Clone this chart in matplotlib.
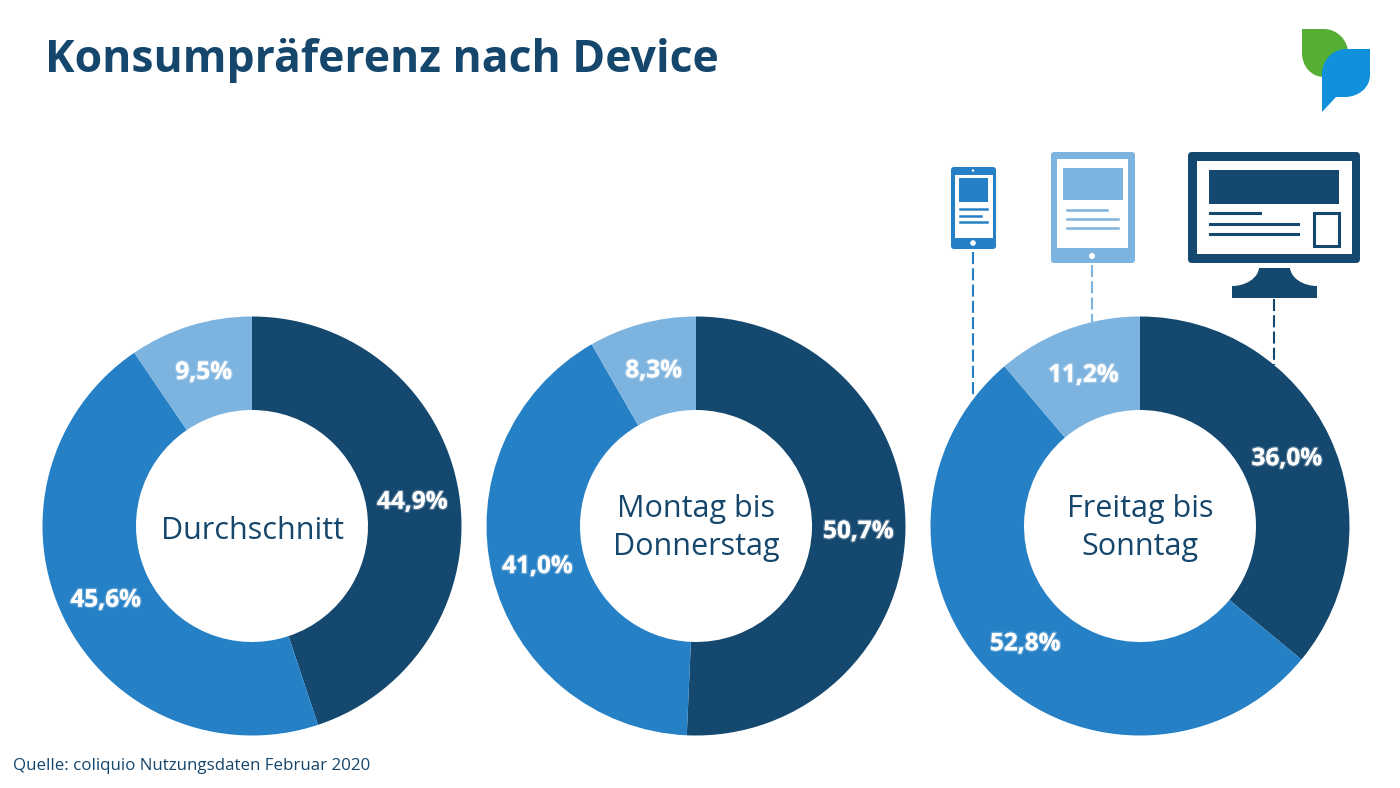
import numpy as np
from matplotlib import pyplot as plt
from matplotlib.patches import Rectangle, Circle, FancyBboxPatch, Wedge, PathPatch
from matplotlib.path import Path
import matplotlib.patheffects as pe

dark = '#15486f'
mid = '#2580c5'
light = '#7db3df'
title_col = '#15466c'

titles = ['Durchschnitt', 'Montag bis\nDonnerstag', 'Freitag bis\nSonntag']
desktop = [44.9, 50.7, 36.0]
mobile = [45.6, 41.0, 52.8]
tablet = [9.5, 8.3, 11.2]
labels = [['44,9%', '45,6%', '9,5%'], ['50,7%', '41,0%', '8,3%'], ['36,0%', '52,8%', '11,2%']]
centers = [252, 696, 1140]
cy = 526
r_out = 209.5
r_in = 116

W, H = 1400, 788
fig = plt.figure(figsize=(14, 7.88), dpi=100)
ax = fig.add_axes([0, 0, 1, 1])
ax.set_xlim(0, W)
ax.set_ylim(H, 0)
ax.axis('off')
plt.rcParams['font.family'] = ['Open Sans', 'DejaVu Sans']

outline = [pe.withStroke(linewidth=2, foreground='#ffffff40')]
dash = (0, (5.8, 2))

for i, cx in enumerate(centers):
    vals = [desktop[i], mobile[i], tablet[i]]
    cols = [dark, mid, light]
    # y axis is inverted, so angles run clockwise from the top
    start = -90.0
    for v, c, lab in zip(vals, cols, labels[i]):
        sweep = v / sum(vals) * 360
        ax.add_patch(Wedge((cx, cy), r_out, start, start + sweep, width=r_out - r_in, fc=c, ec='none'))
        a = np.radians(start + sweep / 2)
        rt = (r_out + r_in) / 2
        ax.text(cx - 0.5 + rt * np.cos(a), cy + 2.5 + rt * np.sin(a), lab, color='white', fontsize=17.5,
                fontweight='bold', ha='center', va='center', path_effects=outline)
        start += sweep
    # single line title sits a little lower than the two line ones
    ax.text(cx, cy + (5 if '\n' not in titles[i] else 2), titles[i], color=title_col, fontsize=22,
            ha='center', va='center', linespacing=1.38)

ax.text(45, 60, 'Konsumpräferenz nach Device', color=title_col, fontsize=32, fontweight='bold', ha='left', va='center')
ax.text(13, 766, 'Quelle: coliquio Nutzungsdaten Februar 2020', color=title_col, fontsize=12.15, ha='left', va='center')

# logo
C4 = Path.CURVE4
green = Path([(1302, 29), (1324, 29), (1337, 29), (1348, 40), (1348, 53), (1348, 66), (1337, 77), (1324, 77),
              (1311, 77), (1302, 66), (1302, 53), (1302, 29)],
             [Path.MOVETO, Path.LINETO, C4, C4, C4, C4, C4, C4, C4, C4, C4, Path.CLOSEPOLY])
ax.add_patch(PathPatch(green, fc='#56ae35', ec='none', zorder=2))
blue = Path([(1370, 49), (1370, 75), (1370, 88), (1358, 97), (1345, 97), (1336, 97), (1322, 112), (1322, 74),
             (1322, 60), (1333, 49), (1346, 49), (1370, 49)],
            [Path.MOVETO, Path.LINETO, C4, C4, C4, Path.LINETO, Path.LINETO, Path.LINETO, C4, C4, C4, Path.CLOSEPOLY])
ax.add_patch(PathPatch(blue, fc='#1190dc', ec='none', zorder=3))

# phone icon
ax.add_patch(FancyBboxPatch((951, 167), 45, 82, boxstyle='round,pad=0,rounding_size=3', fc=mid, ec='none'))
ax.add_patch(Rectangle((955, 175), 38, 63, fc='white', ec='none'))
ax.add_patch(Rectangle((959, 178), 29, 24, fc=mid, ec='none'))
for y, x2 in zip([209, 216, 222], [987, 981, 987]):
    ax.plot([960, x2], [y, y], color=mid, lw=1.8)
ax.add_patch(Circle((973, 243), 2.8, fc='white', ec='none'))
ax.add_patch(Circle((973, 170.5), 1.2, fc='white', ec='none'))
ax.plot([973, 973], [252, 397], color=mid, lw=1.5, ls=dash)

# tablet icon
ax.add_patch(FancyBboxPatch((1051, 152), 84, 111, boxstyle='round,pad=0,rounding_size=3', fc=light, ec='none'))
ax.add_patch(Rectangle((1057, 159), 71, 89, fc='white', ec='none'))
ax.add_patch(Rectangle((1063, 168), 60, 32, fc=light, ec='none'))
for y, x2 in zip([210, 219, 228], [1107, 1118, 1118]):
    ax.plot([1067, x2], [y, y], color=light, lw=1.8)
ax.add_patch(Circle((1092, 256), 3, fc='white', ec='none'))
ax.plot([1092, 1092], [265, 322], color=light, lw=1.5, ls=dash)

# desktop icon
ax.add_patch(FancyBboxPatch((1188, 152), 172, 111, boxstyle='round,pad=0,rounding_size=4', fc=dark, ec='none'))
ax.add_patch(Rectangle((1197, 161), 155, 93, fc='white', ec='none'))
ax.add_patch(Rectangle((1209, 170), 130, 34, fc=dark, ec='none'))
ax.add_patch(Rectangle((1314, 213), 25, 33, fc='white', ec=dark, lw=2.2))
for y, x2 in zip([213, 224, 234], [1260, 1298, 1298]):
    ax.plot([1210, x2], [y, y], color=dark, lw=2.2)
stand = Path([(1259, 268), (1290, 268), (1291, 278), (1303, 286), (1317, 286), (1317, 298), (1232, 298), (1232, 286),
              (1246, 286), (1258, 278), (1259, 268), (1259, 268)],
             [Path.MOVETO, Path.LINETO, C4, C4, C4, Path.LINETO, Path.LINETO, Path.LINETO, C4, C4, C4, Path.CLOSEPOLY])
ax.add_patch(PathPatch(stand, fc=dark, ec='none'))
ax.plot([1274, 1274], [299, 365], color=dark, lw=1.5, ls=dash)

fig.savefig('out.png', dpi=100)
